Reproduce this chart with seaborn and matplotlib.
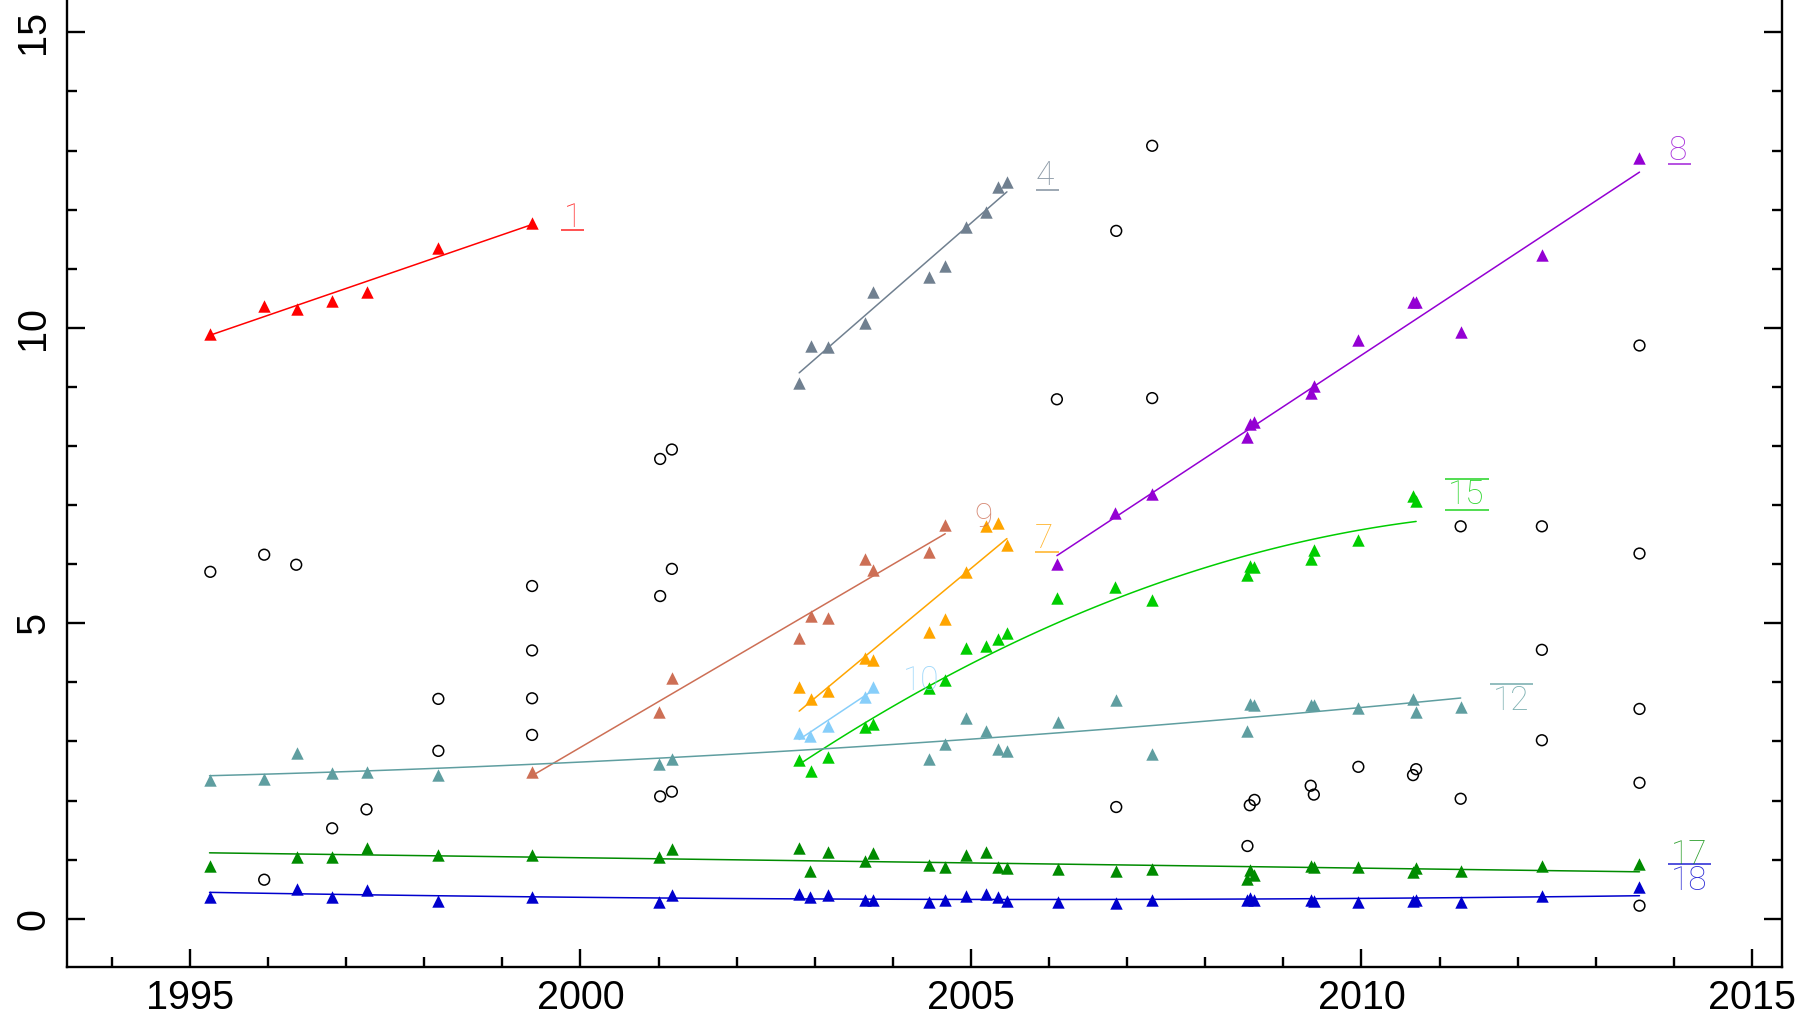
import numpy as np
import pandas as pd
import seaborn as sns
import matplotlib.pyplot as plt
from matplotlib.ticker import MultipleLocator, StrMethodFormatter

sns.set_theme(style='white')
plt.rcParams['font.family'] = ['Liberation Sans', 'DejaVu Sans']

# unlabelled points (open circles)
circle_years = [1995.26, 1995.95, 1995.95, 1996.36, 1996.82, 1997.26, 1998.18, 1998.18,
                1999.38, 1999.38, 1999.38, 1999.38, 2001.02, 2001.02, 2001.02,
                2001.17, 2001.17, 2001.17, 2006.10, 2006.86, 2006.86, 2007.32, 2007.32,
                2008.54, 2008.57, 2008.63, 2009.35, 2009.39, 2009.96, 2010.66, 2010.70,
                2011.27, 2011.27, 2012.31, 2012.31, 2012.31,
                2013.56, 2013.56, 2013.56, 2013.56, 2013.56]
circle_vals = [5.87, 6.16, 0.66, 5.99, 1.53, 1.85, 3.72, 2.84,
               5.63, 4.54, 3.73, 3.11, 7.78, 5.46, 2.07,
               7.94, 5.92, 2.15, 8.79, 11.64, 1.89, 13.08, 8.81,
               1.23, 1.92, 2.01, 2.25, 2.10, 2.57, 2.43, 2.53,
               6.64, 2.03, 6.64, 4.55, 3.02,
               9.70, 6.18, 3.55, 2.30, 0.22]

# labelled series
years_1 = [1995.25, 1995.95, 1996.37, 1996.82, 1997.26, 1998.18, 1999.38]
vals_1 = [9.90, 10.37, 10.32, 10.45, 10.60, 11.35, 11.77]

years_4 = [2002.80, 2002.95, 2003.17, 2003.64, 2003.74, 2004.46, 2004.67, 2004.94,
           2005.19, 2005.35, 2005.46]
vals_4 = [9.06, 9.70, 9.67, 10.08, 10.61, 10.86, 11.05, 11.70, 11.96, 12.39, 12.46]

years_8 = [2006.10, 2006.85, 2007.32, 2008.54, 2008.57, 2008.63, 2009.35, 2009.39,
           2009.96, 2010.66, 2010.70, 2011.27, 2012.31, 2013.56]
vals_8 = [6.01, 6.86, 7.19, 8.16, 8.38, 8.40, 8.89, 9.02, 9.80, 10.43, 10.43, 9.93,
          11.23, 12.88]

years_9 = [1999.38, 2001.01, 2001.17, 2002.80, 2002.95, 2003.17, 2003.64, 2003.74,
           2004.46, 2004.67]
vals_9 = [2.49, 3.49, 4.08, 4.75, 5.13, 5.09, 6.09, 5.90, 6.20, 6.67]

years_7 = [2002.80, 2002.95, 2003.17, 2003.64, 2003.74, 2004.46, 2004.67, 2004.94,
           2005.19, 2005.35, 2005.46]
vals_7 = [3.92, 3.71, 3.85, 4.42, 4.37, 4.86, 5.07, 5.87, 6.65, 6.69, 6.32]

years_10 = [2002.80, 2002.94, 2003.17, 2003.64, 2003.74]
vals_10 = [3.15, 3.09, 3.26, 3.76, 3.92]

years_15 = [2002.80, 2002.95, 2003.17, 2003.64, 2003.74, 2004.46, 2004.67, 2004.94,
            2005.19, 2005.35, 2005.46, 2006.10, 2006.85, 2007.32, 2008.54, 2008.57,
            2008.63, 2009.35, 2009.39, 2009.96, 2010.66, 2010.70]
vals_15 = [2.69, 2.50, 2.74, 3.25, 3.29, 3.90, 4.04, 4.58, 4.61, 4.73, 4.83, 5.42,
           5.62, 5.39, 5.81, 5.97, 5.95, 6.08, 6.24, 6.41, 7.15, 7.07]

years_12 = [1995.25, 1995.95, 1996.37, 1996.82, 1997.26, 1998.18, 2001.01, 2001.17,
            2004.46, 2004.67, 2004.94, 2005.19, 2005.35, 2005.46, 2006.12, 2006.86,
            2007.32, 2008.54, 2008.57, 2008.63, 2009.35, 2009.39, 2009.96, 2010.66,
            2010.70, 2011.27]
vals_12 = [2.34, 2.37, 2.81, 2.47, 2.49, 2.43, 2.62, 2.71, 2.71, 2.96, 3.39, 3.18,
           2.87, 2.84, 3.33, 3.70, 2.79, 3.18, 3.63, 3.62, 3.62, 3.61, 3.56, 3.72,
           3.49, 3.58]

years_all = [1995.25, 1996.37, 1996.82, 1997.26, 1998.18, 1999.38, 2001.01, 2001.17,
             2002.80, 2002.94, 2003.17, 2003.64, 2003.74, 2004.46, 2004.67, 2004.94,
             2005.19, 2005.35, 2005.46, 2006.12, 2006.86, 2007.32, 2008.54, 2008.57,
             2008.63, 2009.35, 2009.39, 2009.96, 2010.66, 2010.70, 2011.27, 2012.31,
             2013.56]
vals_17 = [0.89, 1.05, 1.05, 1.20, 1.07, 1.08, 1.05, 1.18, 1.19, 0.81, 1.13, 0.98,
           1.11, 0.91, 0.87, 1.07, 1.13, 0.88, 0.85, 0.84, 0.80, 0.84, 0.68, 0.82,
           0.74, 0.90, 0.87, 0.88, 0.79, 0.86, 0.80, 0.90, 0.92]
vals_18 = [0.37, 0.50, 0.36, 0.49, 0.30, 0.37, 0.28, 0.40, 0.42, 0.36, 0.40, 0.32,
           0.32, 0.29, 0.32, 0.39, 0.42, 0.37, 0.30, 0.28, 0.27, 0.32, 0.32, 0.35,
           0.32, 0.32, 0.30, 0.29, 0.30, 0.32, 0.29, 0.38, 0.54]

series = [
    ('1', years_1, vals_1, '#ff0000', 1),
    ('4', years_4, vals_4, '#708090', 1),
    ('8', years_8, vals_8, '#9400d3', 1),
    ('9', years_9, vals_9, '#cd6f55', 1),
    ('7', years_7, vals_7, '#ffa500', 1),
    ('10', years_10, vals_10, '#87cefa', 1),
    ('15', years_15, vals_15, '#00cd00', 2),
    ('12', years_12, vals_12, '#5f9ea0', 2),
    ('17', years_all, vals_17, '#008b00', 1),
    ('18', years_all, vals_18, '#0000cd', 2),
]

# label placement (baseline of the digits) and the bars above/below them
label_x = {'1': 1999.90, '4': 2005.95, '8': 2014.05, '9': 2005.16, '7': 2005.94,
           '10': 2004.36, '15': 2011.34, '12': 2011.92, '17': 2014.20, '18': 2014.20}
label_y = {'1': 11.71, '4': 12.41, '8': 12.84, '9': 6.63, '7': 6.28,
           '10': 3.87, '15': 7.01, '12': 3.54, '17': 0.93, '18': 0.49}
bar_label = ['1', '4', '8', '7', '15', '15', '12', '18']
bar_y = [11.65, 12.34, 12.77, 6.20, 7.44, 6.92, 3.97, 0.92]
bar_x0 = [1999.75, 2005.83, 2013.92, 2005.82, 2011.07, 2011.07, 2011.64, 2013.92]
bar_x1 = [2000.05, 2006.13, 2014.22, 2006.13, 2011.63, 2011.63, 2012.20, 2014.48]

fig = plt.figure(figsize=(18.02, 10.21), dpi=100)
ax = fig.add_axes([0.0374, 0.0532, 0.9513, 0.9468])

sns.scatterplot(x=circle_years, y=circle_vals, marker='o', s=60, facecolor='none',
                edgecolor='black', linewidth=1.1, ax=ax, zorder=2)

colors = {}
for name, xs, ys, col, order in series:
    colors[name] = col
    sns.regplot(x=np.array(xs), y=np.array(ys), order=order, ci=None, marker='^',
                color=col, truncate=True, ax=ax,
                scatter_kws={'s': 80, 'alpha': 1, 'linewidths': 0, 'zorder': 3},
                line_kws={'lw': 1.1, 'zorder': 3})

for name in label_x:
    ax.text(label_x[name], label_y[name], name, color=colors[name], alpha=0.8,
            fontsize=24, ha='center', va='baseline',
            family=['Roboto', 'Liberation Sans'], fontweight='light')
for name, yb, x0, x1 in zip(bar_label, bar_y, bar_x0, bar_x1):
    ax.hlines(yb, x0, x1, color=colors[name], lw=1.2, alpha=0.8)

ax.set_xlim(1993.43, 2015.38)
ax.set_ylim(-0.812, 15.547)
ax.set_xlabel('')
ax.set_ylabel('')
ax.xaxis.set_major_locator(MultipleLocator(5))
ax.xaxis.set_minor_locator(MultipleLocator(1))
ax.yaxis.set_major_locator(MultipleLocator(5))
ax.yaxis.set_minor_locator(MultipleLocator(1))
ax.xaxis.set_major_formatter(StrMethodFormatter('{x:.0f}'))
ax.yaxis.set_major_formatter(StrMethodFormatter('{x:.0f}'))

ax.tick_params(which='both', direction='in', width=1.7, color='black',
               left=True, bottom=True, right=True, top=False, labelright=False)
ax.tick_params(which='major', length=13.3, labelsize=28.5, labelcolor='black')
ax.tick_params(which='minor', length=7)
ax.tick_params(axis='x', which='major', pad=9)
ax.tick_params(axis='y', which='major', pad=11, labelrotation=90)
for lab in ax.get_yticklabels():
    lab.set_va('center')

ax.spines['top'].set_visible(False)
for side in ['left', 'right', 'bottom']:
    ax.spines[side].set_linewidth(1.7)
    ax.spines[side].set_color('black')

fig.savefig('out.png', dpi=100)
